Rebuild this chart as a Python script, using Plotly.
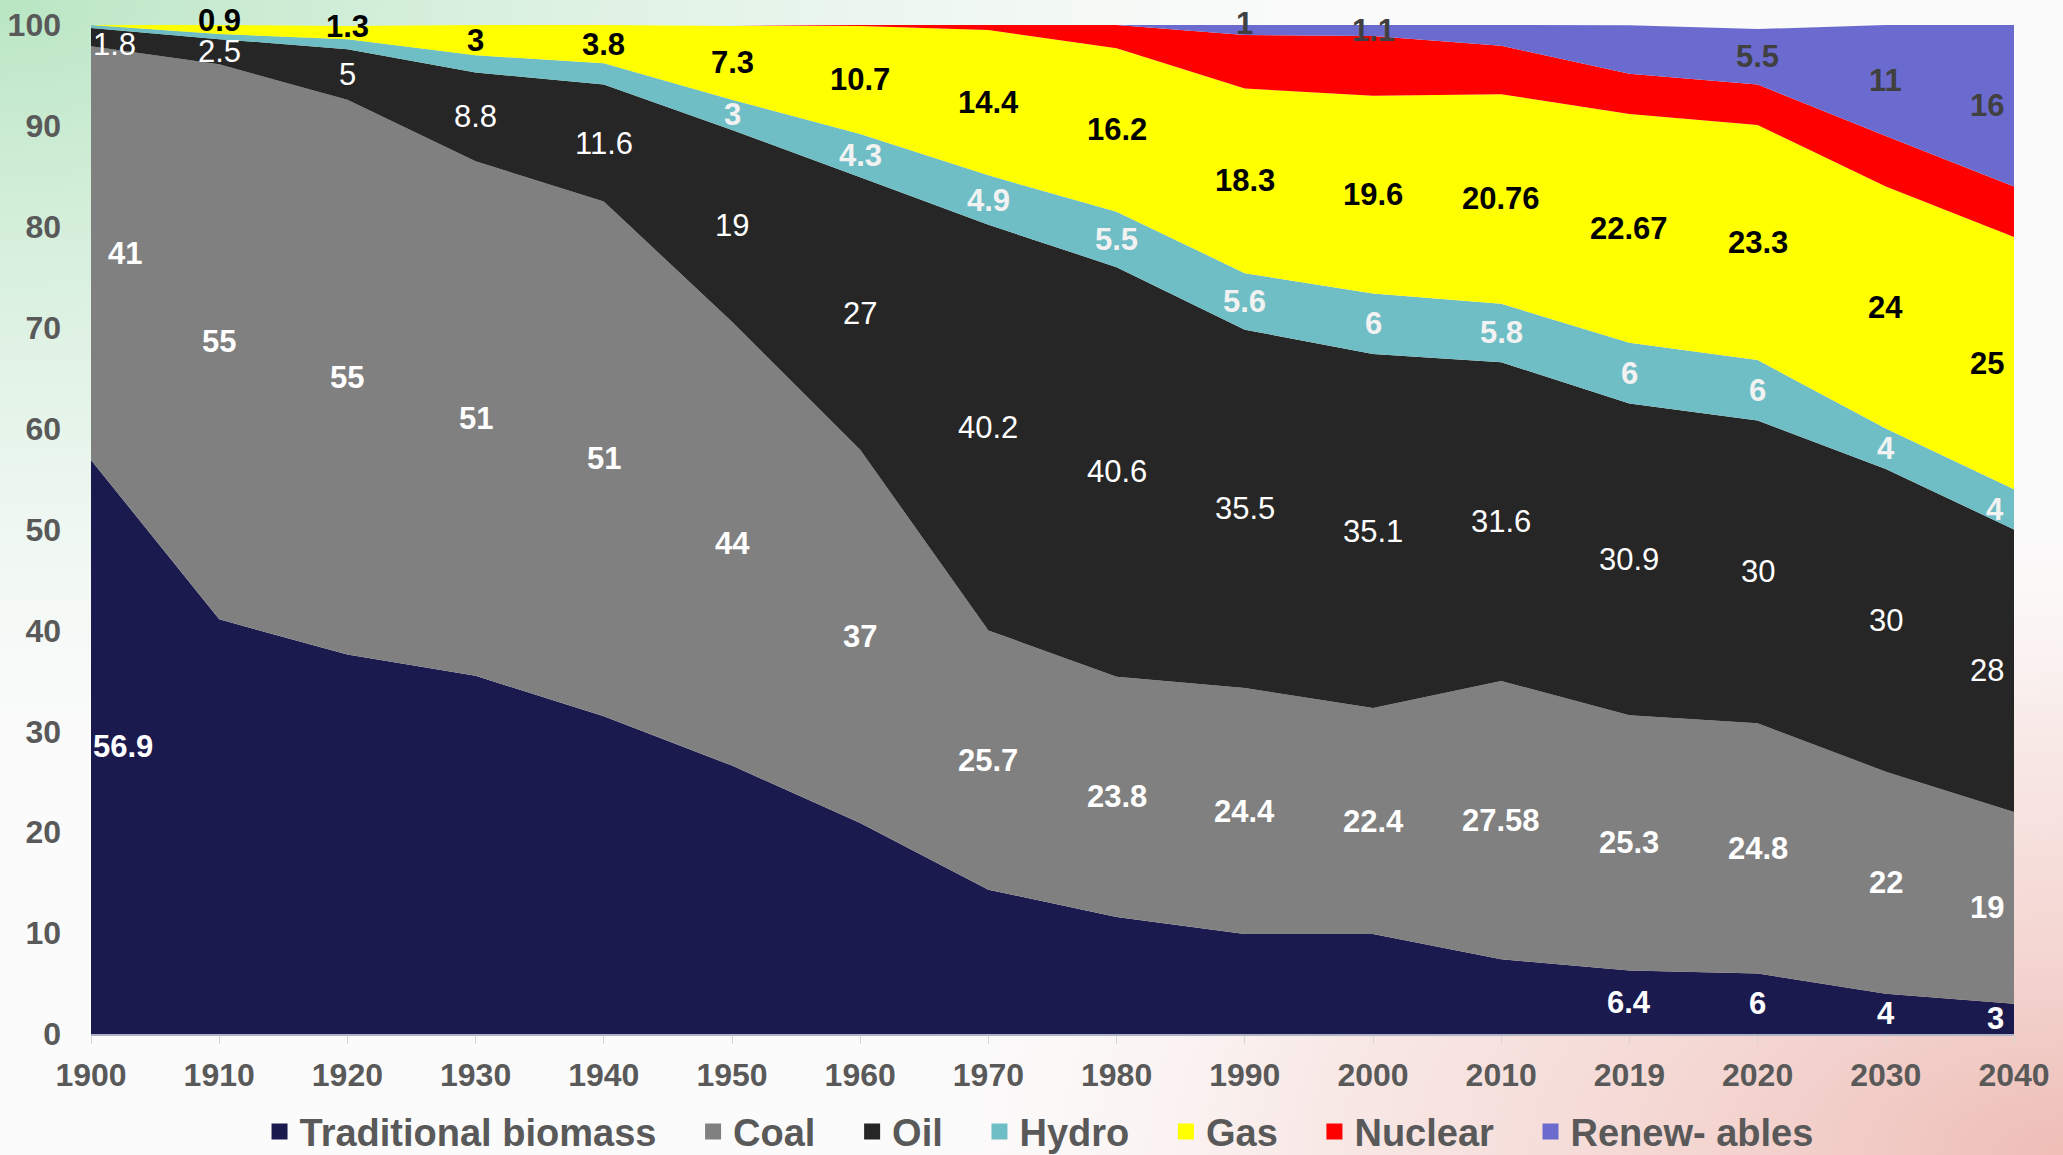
import base64
import plotly.graph_objects as go

# ---------------- data ----------------
years = ["1900", "1910", "1920", "1930", "1940", "1950", "1960", "1970",
         "1980", "1990", "2000", "2010", "2019", "2020", "2030", "2040"]

biomass = [56.9, 41.1, 37.6, 35.5, 31.5, 26.6, 20.9, 14.3, 11.6, 9.9, 9.9, 7.4, 6.3, 6.0, 4.0, 3.0]
coal = [41, 55, 55, 51, 51, 44, 37, 25.7, 23.8, 24.4, 22.4, 27.58, 25.3, 24.8, 22, 19]
oil = [1.8, 2.5, 5, 8.8, 11.6, 19, 27, 40.2, 40.6, 35.5, 35.1, 31.6, 30.9, 30, 30, 28]
hydro = [0.3, 0.5, 1.0, 1.7, 2.1, 3, 4.3, 4.9, 5.5, 5.6, 6, 5.8, 6, 6, 4, 4]
gas = [0, 0.9, 1.3, 3, 3.8, 7.3, 10.7, 14.4, 16.2, 18.3, 19.6, 20.76, 22.67, 23.3, 24, 25]
nuclear = [0, 0, 0, 0, 0, 0, 0.1, 0.5, 2.3, 5.3, 5.9, 4.8, 4.0, 4.0, 5, 5]
renewables = [0, 0, 0, 0, 0, 0, 0, 0, 0, 1, 1.1, 2.06, 4.8, 5.5, 11, 16]

# data labels shown in the chart (None = no label)
biomass_labels = ["56.9", None, None, None, None, None, None, None, None, None, None, None,
                  "6.4", "6", "4", "3"]
coal_labels = ["41", "55", "55", "51", "51", "44", "37", "25.7", "23.8", "24.4", "22.4",
               "27.58", "25.3", "24.8", "22", "19"]
oil_labels = ["1.8", "2.5", "5", "8.8", "11.6", "19", "27", "40.2", "40.6", "35.5", "35.1",
              "31.6", "30.9", "30", "30", "28"]
hydro_labels = [None, None, None, None, None, "3", "4.3", "4.9", "5.5", "5.6", "6", "5.8",
                "6", "6", "4", "4"]
gas_labels = [None, "0.9", "1.3", "3", "3.8", "7.3", "10.7", "14.4", "16.2", "18.3", "19.6",
              "20.76", "22.67", "23.3", "24", "25"]
nuclear_labels = [None] * 16
renewables_labels = [None, None, None, None, None, None, None, None, None, "1", "1.1", None,
                     None, "5.5", "11", "16"]

y_ticks = [0, 10, 20, 30, 40, 50, 60, 70, 80, 90, 100]

series = [
    ("Traditional biomass", biomass, biomass_labels, "#1b1a4e", "white", True),
    ("Coal", coal, coal_labels, "#808080", "white", True),
    ("Oil", oil, oil_labels, "#262626", "white", False),
    ("Hydro", hydro, hydro_labels, "#70bec5", "#f2f2f2", True),
    ("Gas", gas, gas_labels, "#ffff00", "black", True),
    ("Nuclear", nuclear, nuclear_labels, "#ff0000", "black", True),
    ("Renew- ables", renewables, renewables_labels, "#6b6bcf", "#404040", True),
]

# small label nudges (pixels, y) used by the original where labels hug the top edge
label_nudge = {("Gas", 1): 9, ("Gas", 2): 6, ("Renew- ables", 9): 7, ("Oil", 0): -7}
label_xnudge = {("Coal", 0): 15}

FONT = "Liberation Sans, Arial, Helvetica, sans-serif"
W, H = 2063, 1155
ML, MR, MT, MB = 91, 49, 25, 121

xs = list(range(len(years)))
fig = go.Figure()
cum = [0.0] * len(years)
annotations = []
for name, vals, labels, color, lcolor, bold in series:
    fig.add_trace(go.Scatter(
        x=xs, y=vals, name=name, stackgroup="one", mode="none",
        fillcolor=color, line=dict(width=0), hoverinfo="name+y",
        showlegend=False, legendgroup=name,
    ))
    for j, (v, lab) in enumerate(zip(vals, labels)):
        if lab is not None:
            mid = cum[j] + v / 2.0
            if j == 0:
                xa, xsh = "left", 0
            elif j == len(years) - 1:
                xa, xsh = "right", -8
            else:
                xa, xsh = "center", 0
            txt = f"<b>{lab}</b>" if bold else lab
            annotations.append(dict(
                x=j, y=mid, xref="x", yref="y", text=txt, showarrow=False,
                xanchor=xa, yanchor="middle",
                xshift=xsh + label_xnudge.get((name, j), 0),
                yshift=label_nudge.get((name, j), 0),
                font=dict(family=FONT, size=31, color=lcolor),
            ))
    cum = [c + v for c, v in zip(cum, vals)]

# legend entries with square swatches
for k, (name, vals, labels, color, lcolor, bold) in enumerate(series):
    pad = "" if k == len(series) - 1 else "\u00a0\u00a0\u00a0"
    fig.add_trace(go.Scatter(
        x=[None], y=[None], mode="markers", name=name + pad, legendgroup=name,
        marker=dict(symbol="square", size=19, color=color, line=dict(width=0)),
        showlegend=True, hoverinfo="skip",
    ))

# soft gradient background (green top-left, pink bottom-right)
svg = f"""<svg xmlns='http://www.w3.org/2000/svg' width='{W}' height='{H}' viewBox='0 0 {W} {H}' preserveAspectRatio='none'>
<defs>
<radialGradient id='g1' cx='0' cy='0' r='0.75' gradientUnits='objectBoundingBox'>
<stop offset='0' stop-color='#b9e6c3' stop-opacity='1'/>
<stop offset='0.55' stop-color='#dff2e5' stop-opacity='0.6'/>
<stop offset='1' stop-color='#ffffff' stop-opacity='0'/>
</radialGradient>
<radialGradient id='g2' cx='1' cy='1' r='0.6' gradientUnits='objectBoundingBox'>
<stop offset='0' stop-color='#eebdb6' stop-opacity='1'/>
<stop offset='0.6' stop-color='#f6dcd8' stop-opacity='0.6'/>
<stop offset='1' stop-color='#ffffff' stop-opacity='0'/>
</radialGradient>
</defs>
<rect width='{W}' height='{H}' fill='#fbfbfb'/>
<rect width='{W}' height='{H}' fill='url(#g1)'/>
<rect width='{W}' height='{H}' fill='url(#g2)'/>
</svg>"""
src = "data:image/svg+xml;base64," + base64.b64encode(svg.encode()).decode()
pw, ph = W - ML - MR, H - MT - MB

fig.update_layout(
    width=W, height=H,
    margin=dict(l=ML, r=MR, t=MT, b=MB, pad=0, autoexpand=False),
    paper_bgcolor="rgba(0,0,0,0)",
    plot_bgcolor="rgba(0,0,0,0)",
    font=dict(family=FONT, color="#595959"),
    showlegend=True,
    legend=dict(
        orientation="h", x=0.493, xanchor="center", y=-0.097, yanchor="middle",
        traceorder="normal",
        font=dict(family=FONT, size=38, color="#595959", weight="bold"),
        itemwidth=30, bgcolor="rgba(0,0,0,0)",
    ),
    annotations=annotations,
    images=[dict(
        source=src, xref="paper", yref="paper",
        x=-ML / pw, y=1 + MT / ph, sizex=W / pw, sizey=H / ph,
        xanchor="left", yanchor="top", sizing="stretch", layer="below",
    )],
    hovermode="closest",
)
fig.update_xaxes(
    range=[0, len(years) - 1], tickmode="array", tickvals=xs, ticktext=years,
    showgrid=False, zeroline=False, automargin=False,
    showline=True, linecolor="#b0b3c8", linewidth=2,
    ticks="outside", ticklen=8, tickcolor="#d6d6d6", tickwidth=1,
    tickfont=dict(family=FONT, size=32, color="#595959", weight="bold"),
    ticklabelstandoff=4,
)
fig.update_yaxes(
    range=[0, 100], tickmode="array", tickvals=y_ticks,
    ticktext=[str(t) for t in y_ticks], automargin=False,
    showgrid=True, gridcolor="#e4e4e4", gridwidth=1, zeroline=False,
    showline=False, ticks="",
    tickfont=dict(family=FONT, size=32, color="#595959", weight="bold"),
    ticklabelstandoff=29,
)

fig.write_html("out.html", config={"displayModeBar": False},
               post_script="document.body.style.margin='0';document.body.style.overflow='hidden';")
